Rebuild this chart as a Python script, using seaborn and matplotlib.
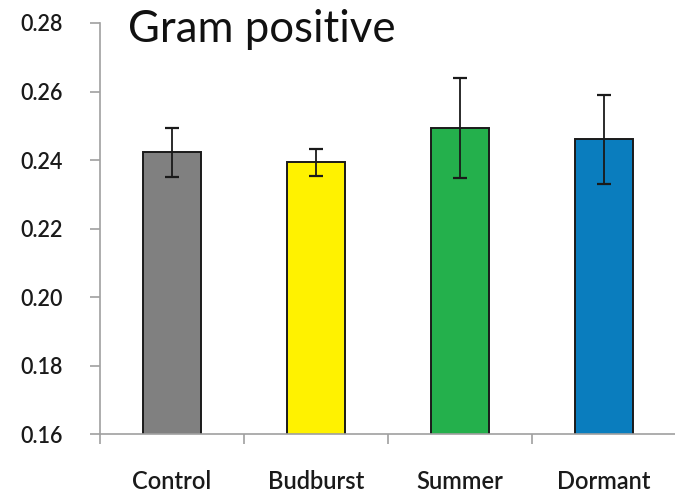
import matplotlib
matplotlib.use("Agg")
import matplotlib.pyplot as plt
import seaborn as sns
import pandas as pd

# Gram positive marker abundance by treatment
categories = ["Control", "Budburst", "Summer", "Dormant"]
means = [0.2422, 0.2393, 0.2493, 0.2460]
errors = [0.0072, 0.0040, 0.0145, 0.0130]
colors = ["#808080", "#FFF200", "#24B04C", "#0A7DBE"]
yticks = [0.16, 0.18, 0.20, 0.22, 0.24, 0.26, 0.28]

sns.set_theme(style="white")
plt.rcParams["font.family"] = ["Lato", "DejaVu Sans"]

df = pd.DataFrame({"group": categories, "value": means})

fig = plt.figure(figsize=(6.75, 4.94), dpi=100)
ax = fig.add_axes([100 / 675, 60 / 494, 576 / 675, 411 / 494])

sns.barplot(data=df, x="group", y="value", hue="group", palette=colors,
            order=categories, hue_order=categories, legend=False,
            errorbar=None, width=0.4, saturation=1, edgecolor="#1a1a1a",
            linewidth=1.4, ax=ax)
ax.errorbar(range(len(categories)), means, yerr=errors, fmt="none",
            ecolor="#1a1a1a", elinewidth=1.3, capsize=5, capthick=1.6)

ax.set_ylim(0.16, 0.28)
ax.set_xlim(-0.5, 3.5)
ax.set_yticks(yticks)
ax.set_yticklabels([f"{v:.2f}" for v in yticks])
ax.set_xlabel("")
ax.set_ylabel("")

# category boundary ticks on the x axis, labels centred under bars
ax.set_xticks([-0.5, 0.5, 1.5, 2.5, 3.5])
ax.set_xticklabels([])
ax.set_xticks(range(len(categories)), minor=True)
ax.set_xticklabels(categories, minor=True)
ax.tick_params(axis="x", which="major", direction="out", length=7,
               width=1.2, color="#a0a0a0", bottom=True)
ax.tick_params(axis="x", which="minor", length=0, pad=26,
               labelsize=17, labelcolor="#1a1a1a")
ax.tick_params(axis="y", direction="out", length=7, width=1.2,
               color="#a0a0a0", left=True, pad=20, labelsize=15.5,
               labelcolor="#1a1a1a")
for lab in ax.get_yticklabels() + ax.get_xticklabels(minor=True):
    lab.set_fontweight("semibold")

for side in ["top", "right"]:
    ax.spines[side].set_visible(False)
for side in ["left", "bottom"]:
    ax.spines[side].set_color("#a0a0a0")
    ax.spines[side].set_linewidth(1.2)

fig.text(128 / 675, 1 - 30 / 494, "Gram positive", fontsize=31.5,
         color="#111111", va="center", ha="left")

fig.savefig("out.png", dpi=100)
